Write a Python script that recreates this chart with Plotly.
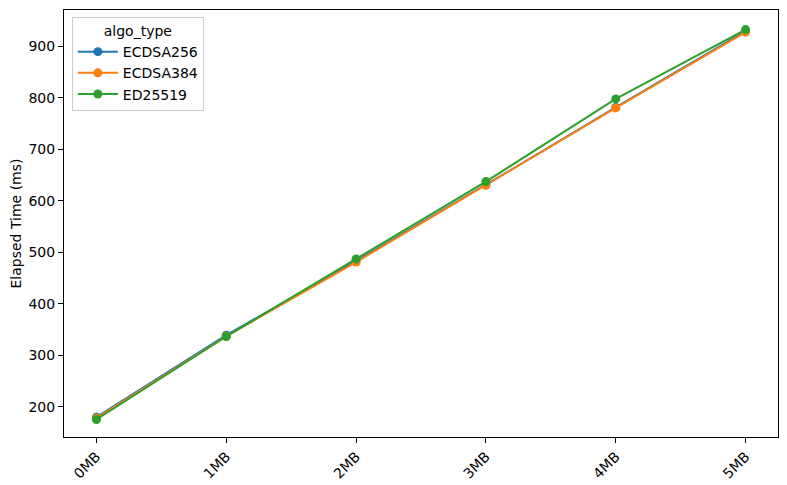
import plotly.graph_objects as go

sizes = ["0MB", "1MB", "2MB", "3MB", "4MB", "5MB"]
ecdsa256 = [180, 339, 483, 631, 781, 929]
ecdsa384 = [178, 337, 481, 630, 780, 927]
ed25519 = [175.5, 336.5, 487, 637, 797.5, 932]

series = [("ECDSA256", ecdsa256, "#1f77b4"),
          ("ECDSA384", ecdsa384, "#ff7f0e"),
          ("ED25519", ed25519, "#2ca02c")]

fig = go.Figure()
for name, vals, color in series:
    fig.add_trace(go.Scatter(
        x=list(range(len(sizes))), y=vals, name=name, mode="lines+markers",
        line=dict(color=color, width=2), marker=dict(color=color, size=9)))

font = "DejaVu Sans, sans-serif"
fig.update_layout(
    width=787, height=485,
    margin=dict(l=64, r=9, t=10, b=48),
    paper_bgcolor="white", plot_bgcolor="white",
    font=dict(family=font, size=14, color="black"),
    showlegend=True,
    legend=dict(
        x=0.011, y=0.984, xanchor="left", yanchor="top",
        bgcolor="rgba(255,255,255,0.8)", bordercolor="#cccccc", borderwidth=1,
        title=dict(text="algo_type", side="top center", font=dict(size=14)),
        font=dict(size=14), itemwidth=40, tracegroupgap=0,
    ),
    xaxis=dict(
        range=[-0.25, 5.25], tickmode="array", tickvals=list(range(len(sizes))),
        ticktext=sizes, tickangle=-45, showline=True, linecolor="black",
        linewidth=1, mirror=True, ticks="outside", ticklen=5, tickcolor="black",
        showgrid=False, zeroline=False, automargin=False,
    ),
    yaxis=dict(
        range=[141.5, 970], tickmode="array",
        tickvals=[200, 300, 400, 500, 600, 700, 800, 900],
        showline=True, linecolor="black", linewidth=1, mirror=True,
        ticks="outside", ticklen=5, tickcolor="black",
        showgrid=False, zeroline=False, automargin=False,
        title=dict(text="Elapsed Time (ms)", standoff=3, font=dict(size=14)),
    ),
)

fig.write_html("out.html")
